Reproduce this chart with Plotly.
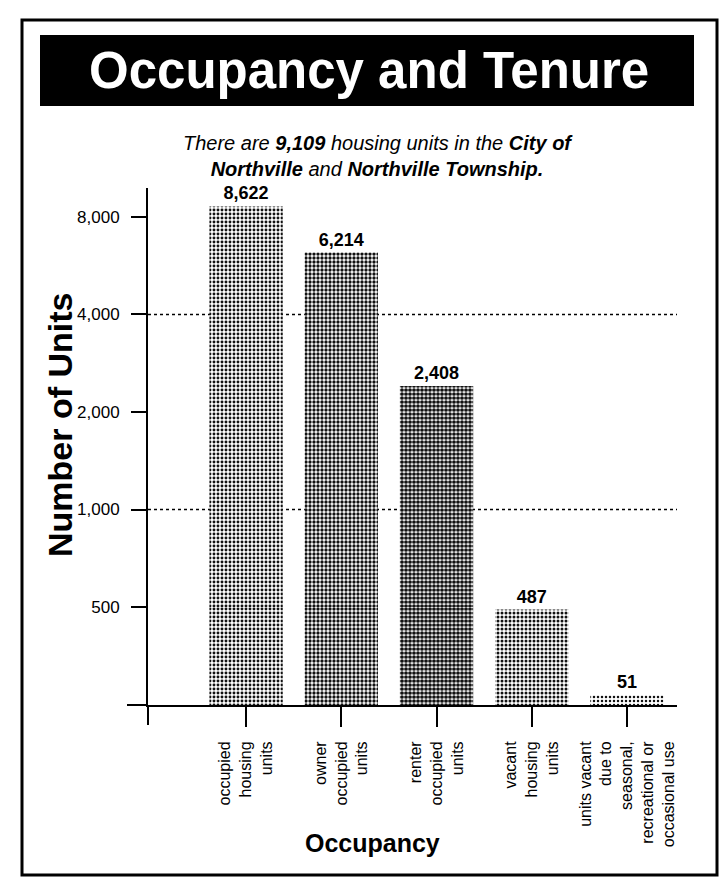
import plotly.graph_objects as go

# ---- data ----
categories = [
    "occupied<br>housing<br>units",
    "owner<br>occupied<br>units",
    "renter<br>occupied<br>units",
    "vacant<br>housing<br>units",
    "units vacant<br>due to<br>seasonal,<br>recreational or<br>occasional use",
]
values = [8622, 6214, 2408, 487, 51]
tick_vals = [500, 1000, 2000, 4000, 8000]
tick_text = ["500", "1,000", "2,000", "4,000", "8,000"]
grid_vals = [4000, 1000]
shade = [0.42, 0.55, 0.68, 0.45, 0.30]   # halftone density per bar
break_value = 500                          # scale switches from linear to log here

FONT = "Liberation Sans, Arial, Helvetica, sans-serif"

x_pos = list(range(len(categories)))
upper_text = [f"{v:,}" if v >= break_value else "" for v in values]
lower_text = [f"{v:,}" if v < break_value else "" for v in values]

pattern = dict(shape=".", fgcolor="#111111", bgcolor="#ffffff",
               solidity=shade, size=4, fillmode="replace")

fig = go.Figure()
# lower (linear 0-500) segment
fig.add_trace(go.Bar(
    x=x_pos, y=values, yaxis="y", xaxis="x",
    marker=dict(color="#ffffff", line=dict(width=0), pattern=pattern),
    text=lower_text, textposition="outside", cliponaxis=False,
    textfont=dict(family=FONT, size=18, color="black"),
    texttemplate="<b>%{text}</b>", hoverinfo="skip", showlegend=False,
))
# upper (log 500+) segment
fig.add_trace(go.Bar(
    x=x_pos, y=values, yaxis="y2", xaxis="x",
    marker=dict(color="#ffffff", line=dict(width=0), pattern=pattern),
    text=upper_text, textposition="outside", cliponaxis=False,
    textfont=dict(family=FONT, size=18, color="black"),
    texttemplate="<b>%{text}</b>", hoverinfo="skip", showlegend=False,
))

split = (705 - 607) / 517.0

fig.update_layout(
    width=722, height=880,
    margin=dict(l=148, r=45, t=188, b=175, autoexpand=False),
    paper_bgcolor="white", plot_bgcolor="white",
    font=dict(family=FONT, color="black"),
    bargap=0.23,
    xaxis=dict(
        type="linear", range=[-1.03, 4.525],
        tickmode="array", tickvals=x_pos, ticktext=categories,
        tickangle=-90, ticks="outside", ticklen=20, tickwidth=1.5, tickcolor="black",
        tickfont=dict(family=FONT, size=16, color="black"),
        showline=True, linecolor="black", linewidth=2,
        showgrid=False, zeroline=False, anchor="y", automargin=False,
        ticklabelstandoff=8,
    ),
    yaxis=dict(
        domain=[0, split], range=[0, break_value],
        showticklabels=False, ticks="", showgrid=False, zeroline=False,
        showline=True, linecolor="black", linewidth=2, anchor="x",
        automargin=False,
    ),
    yaxis2=dict(
        domain=[split, 1], type="log",
        range=[2.69897, 3.9926],
        tickmode="array", tickvals=tick_vals, ticktext=tick_text,
        ticks="outside", ticklen=15, tickwidth=2, tickcolor="black",
        tickfont=dict(family=FONT, size=17, color="black"),
        showline=True, linecolor="black", linewidth=2,
        showgrid=False, zeroline=False, anchor="x", automargin=False,
        ticklabelstandoff=8,
    ),
)

shapes = []
# dotted reference lines
for gv in grid_vals:
    shapes.append(dict(type="line", xref="paper", yref="y2", x0=0, x1=1, y0=gv, y1=gv,
                       line=dict(color="black", width=1.5, dash="dot"), layer="below"))
# axis extensions
shapes.append(dict(type="line", xref="paper", yref="paper", x0=0, x1=0, y0=0, y1=-20/517,
                   line=dict(color="black", width=2)))
shapes.append(dict(type="line", xref="paper", yref="paper", x0=-21/529, x1=0, y0=0, y1=0,
                   line=dict(color="black", width=2)))
# outer frame
shapes.append(dict(type="rect", xref="paper", yref="paper",
                   x0=(22-148)/529, x1=(717-148)/529, y0=(705-875)/517, y1=(705-20)/517,
                   line=dict(color="black", width=3), fillcolor="rgba(0,0,0,0)"))
# title box
shapes.append(dict(type="rect", xref="paper", yref="paper",
                   x0=(40-148)/529, x1=(694-148)/529, y0=(705-106)/517, y1=(705-35)/517,
                   line=dict(color="black", width=0), fillcolor="black"))
fig.update_layout(shapes=shapes)

annotations = [
    dict(text="<b>Occupancy and Tenure</b>", xref="paper", yref="paper",
         x=(369-148)/529, y=(705-71)/517, showarrow=False,
         font=dict(family=FONT, size=51, color="white"), xanchor="center", yanchor="middle"),
    dict(text="<i>There are <b>9,109</b> housing units in the <b>City of</b><br>"
              "<b>Northville</b> and <b>Northville Township.</b></i>",
         xref="paper", yref="paper", x=(378-148)/529, y=(705-156)/517, showarrow=False,
         font=dict(family=FONT, size=20, color="black"), xanchor="center", yanchor="middle",
         align="center"),
    dict(text="<b>Number of Units</b>", xref="paper", yref="paper",
         x=(60-148)/529, y=(705-425)/517, showarrow=False, textangle=-90,
         font=dict(family=FONT, size=34, color="black"), xanchor="center", yanchor="middle"),
    dict(text="<b>Occupancy</b>", xref="paper", yref="paper",
         x=(372-148)/529, y=(705-843)/517, showarrow=False,
         font=dict(family=FONT, size=25, color="black"), xanchor="center", yanchor="middle"),
]
fig.update_layout(annotations=annotations)

fig.write_html("out.html", config={"displayModeBar": False},
               post_script="document.body.style.margin='0';")
